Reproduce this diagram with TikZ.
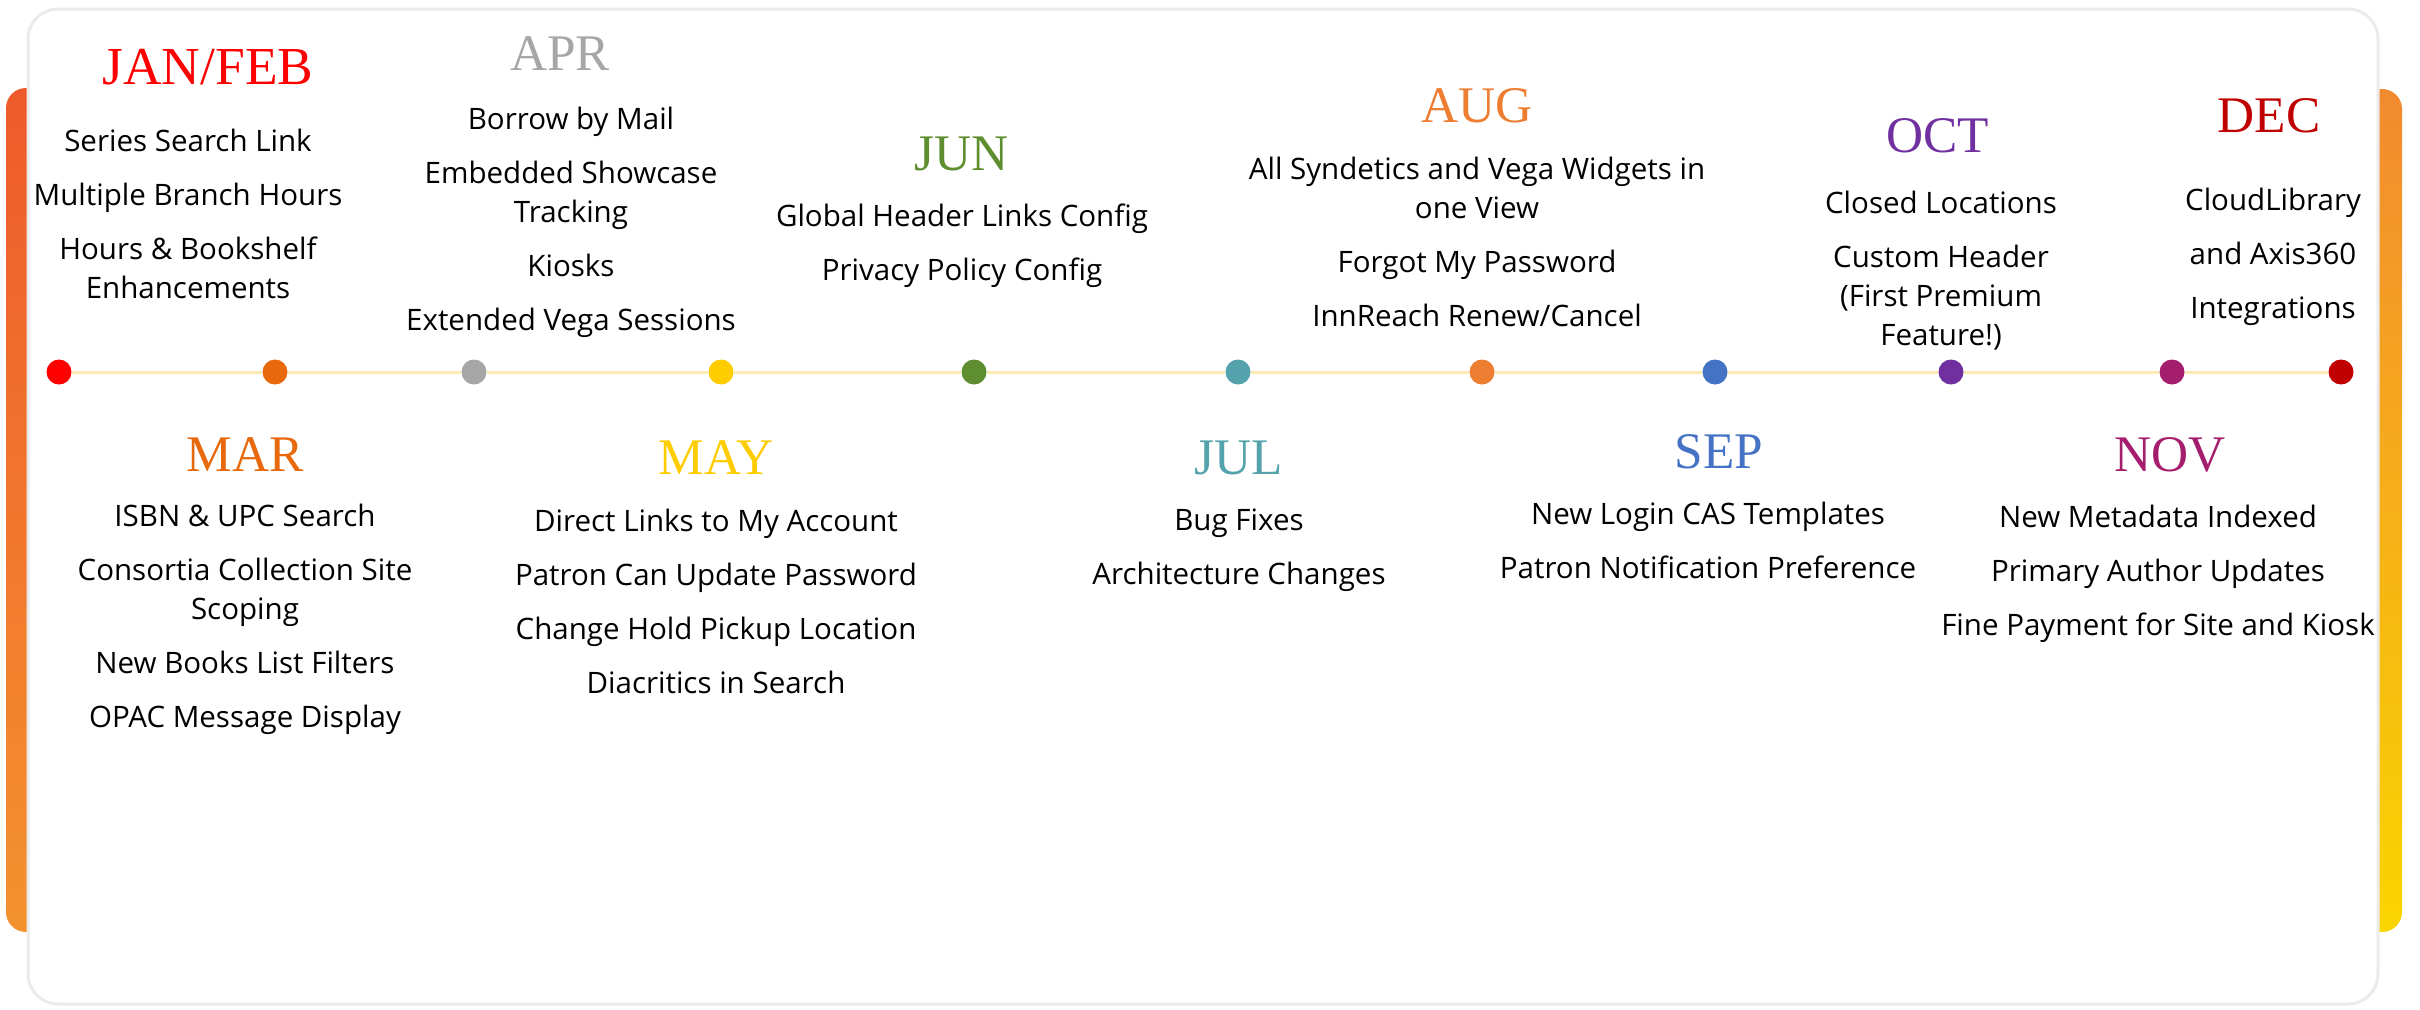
\documentclass[tikz,border=0pt]{standalone}
\usepackage{fontspec}
\setmainfont{Open Sans}
\newfontfamily\monthserif{Liberation Serif}
\usetikzlibrary{positioning}
\definecolor{cJan}{HTML}{FF0000}
\definecolor{cMar}{HTML}{E8690B}
\definecolor{cApr}{HTML}{A6A6A6}
\definecolor{cMay}{HTML}{FFCC00}
\definecolor{cJun}{HTML}{5E8E2F}
\definecolor{cJul}{HTML}{54A3AC}
\definecolor{cAug}{HTML}{ED7D31}
\definecolor{cSep}{HTML}{4472C4}
\definecolor{cOct}{HTML}{7030A0}
\definecolor{cNov}{HTML}{A51E6E}
\definecolor{cDec}{HTML}{C00000}
\definecolor{lineyel}{HTML}{FDE9B2}
\tikzset{
  month/.style={font=\monthserif\fontsize{14.6}{16}\selectfont, inner sep=0pt, anchor=base},
  items/.style={font=\fontsize{8.4}{11.1}\selectfont, align=center, inner sep=0pt, anchor=north},
  dot/.style={circle, inner sep=0pt, minimum size=2.5mm},
  tline/.style={draw=lineyel, line width=0.3mm}
}
\begin{document}
\begin{tikzpicture}[x=0.1mm,y=-0.1mm]
\useasboundingbox (0,0) rectangle (2420,1009);
% side bars and card
\shade[top color={rgb,255:red,238;green,90;blue,43}, bottom color={rgb,255:red,244;green,146;blue,47}, rounded corners=2mm] (6,88) rectangle (60,932);
\shade[top color={rgb,255:red,242;green,138;blue,48}, bottom color={rgb,255:red,250;green,213;blue,0}, rounded corners=2mm] (2340,89) rectangle (2402,932);
\draw[fill=white, draw=black!8, line width=0.3mm, rounded corners=3mm] (28,9) rectangle (2378,1004);
% timeline
\foreach \x/\c [count=\i] in {59/cJan,275/cMar,474/cApr,721/cMay,974/cJun,1238/cJul,1482/cAug,1715/cSep,1951/cOct,2172/cNov,2341/cDec}
  \node[dot, fill=\c] (d\i) at (\x,372) {};
\foreach \i in {1,...,10}{
  \pgfmathtruncatemacro{\j}{\i+1}
  \draw[tline] (d\i) -- (d\j);}
% above the line
\node[month, text=cJan, font=\monthserif\fontsize{15.2}{16}\selectfont] (jan) at (208,84) {JAN/FEB};
\node[items] (janitems) at (188,128) {Series Search Link\\[4.3pt]Multiple Branch Hours\\[4.3pt]Hours \& Bookshelf\\Enhancements};
\node[month, text=cApr] (apr) at (560,70) {APR};
\node[items] (apritems) at (571,106) {Borrow by Mail\\[4.3pt]Embedded Showcase\\Tracking\\[4.3pt]Kiosks\\[4.3pt]Extended Vega Sessions};
\node[month, text=cJun] (jun) at (962,170) {JUN};
\node[items] (junitems) at (962,203) {Global Header Links Config\\[4.3pt]Privacy Policy Config};
\node[month, text=cAug] (aug) at (1477,122) {AUG};
\node[items] (augitems) at (1477,156) {All Syndetics and Vega Widgets in\\one View\\[4.3pt]Forgot My Password\\[4.3pt]InnReach Renew/Cancel};
\node[month, text=cOct] (oct) at (1938,152) {OCT};
\node[items] (octitems) at (1941,190) {Closed Locations\\[4.3pt]Custom Header\\(First Premium\\Feature!)};
\node[month, text=cDec] (dec) at (2269,132) {DEC};
\node[items] (decitems) at (2273,187) {CloudLibrary\\[4.3pt]and Axis360\\[4.3pt]Integrations};
% below the line
\node[month, text=cMar] (mar) at (245,471) {MAR};
\node[items] (maritems) at (245,503) {ISBN \& UPC Search\\[4.3pt]Consortia Collection Site\\Scoping\\[4.3pt]New Books List Filters\\[4.3pt]OPAC Message Display};
\node[month, text=cMay] (may) at (716,474) {MAY};
\node[items] (mayitems) at (716,508) {Direct Links to My Account\\[4.3pt]Patron Can Update Password\\[4.3pt]Change Hold Pickup Location\\[4.3pt]Diacritics in Search};
\node[month, text=cJul] (jul) at (1239,474) {JUL};
\node[items] (julitems) at (1239,508) {Bug Fixes\\[4.3pt]Architecture Changes};
\node[month, text=cSep] (sep) at (1719,468) {SEP};
\node[items] (sepitems) at (1708,501) {New Login CAS Templates\\[4.3pt]Patron Notification Preference};
\node[month, text=cNov] (nov) at (2170,471) {NOV};
\node[items] (novitems) at (2158,504) {New Metadata Indexed\\[4.3pt]Primary Author Updates\\[4.3pt]Fine Payment for Site and Kiosk};
\end{tikzpicture}
\end{document}
